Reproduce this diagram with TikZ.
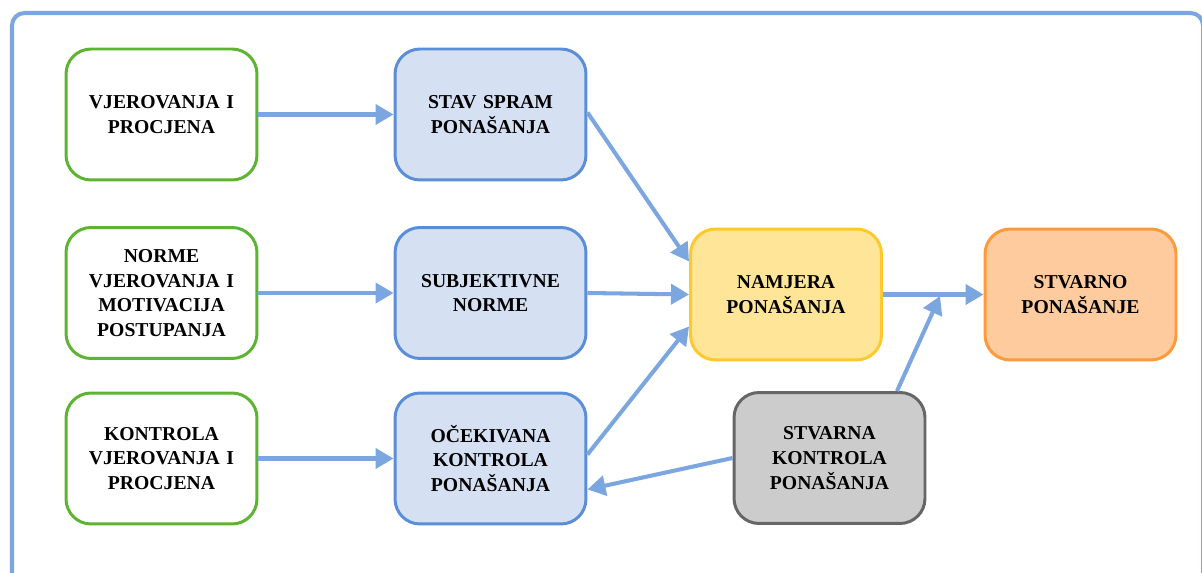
\documentclass[tikz,border=0pt]{standalone}
\usepackage{fontspec}
\setmainfont{Liberation Serif}
\usetikzlibrary{arrows.meta,calc}
\definecolor{arrowblue}{HTML}{7BA6E0}
\definecolor{greenline}{HTML}{5DB332}
\definecolor{bluefill}{HTML}{D5E1F3}
\definecolor{blueline}{HTML}{5B8ED8}
\definecolor{yelfill}{HTML}{FFE597}
\definecolor{yelline}{HTML}{FFC82D}
\definecolor{orfill}{HTML}{FDCB9E}
\definecolor{orline}{HTML}{FD9A3D}
\definecolor{grfill}{HTML}{CCCCCC}
\definecolor{grline}{HTML}{666666}
\tikzset{
  box/.style={draw, rounded corners=0.5cm, line width=1.7pt, minimum width=3.82cm, minimum height=2.62cm,
    align=center, font=\fontsize{11.2}{14}\selectfont\bfseries, text width=3.4cm},
  greenbox/.style={box, draw=greenline, fill=white},
  bluebox/.style={box, draw=blueline, fill=bluefill},
  yelbox/.style={box, draw=yelline, fill=yelfill},
  orbox/.style={box, draw=orline, fill=orfill},
  graybox/.style={box, draw=grline, fill=grfill},
  conn/.style={draw=arrowblue, line width=2.3pt, -{Triangle[length=0.36cm,width=0.4cm]}},
}
\begin{document}
\begin{tikzpicture}[x=0.02cm,y=-0.02cm]
\useasboundingbox (0,0) rectangle (1202,573);
\begin{scope}
\clip (0,0) rectangle (1202,573);
\draw[arrowblue, line width=2.3pt, rounded corners=0.25cm] (12,580) -- (12,13) -- (1203,13) -- (1203,580);
\end{scope}
\node[greenbox] (g1) at (161.5,114.5) {VJEROVANJA I\\PROCJENA};
\node[greenbox] (g2) at (161.5,293) {NORME\\VJEROVANJA I\\MOTIVACIJA\\POSTUPANJA};
\node[greenbox] (g3) at (161.5,458.5) {KONTROLA\\VJEROVANJA I\\PROCJENA};
\node[bluebox] (b1) at (490.5,114.5) {STAV SPRAM\\PONAŠANJA};
\node[bluebox] (b2) at (490.5,293) {SUBJEKTIVNE\\NORME};
\node[bluebox] (b3) at (490.5,458.5) {OČEKIVANA\\KONTROLA\\PONAŠANJA};
\node[yelbox] (y) at (786,294.5) {NAMJERA\\PONAŠANJA};
\node[orbox] (o) at (1080.5,294.5) {STVARNO\\PONAŠANJE};
\node[graybox] (k) at (829.5,458) {STVARNA\\KONTROLA\\PONAŠANJA};
\coordinate (m) at (940,296);
\draw[conn] (g1) -- (b1);
\draw[conn] (g2) -- (b2);
\draw[conn] (g3) -- (b3);
\draw[conn] ($(b1.east)+(0,-2)$) -- ($(y.west)+(0,-33)$);
\draw[conn] (b2.east) -- (y.west);
\draw[conn] ($(b3.east)+(0,-4)$) -- ($(y.west)+(0,32)$);
\draw[conn] (y) -- (o);
\draw[conn] ($(k.north)+(67.5,0)$) -- (m);
\draw[conn] (k.west) -- ($(b3.east)+(0,31)$);
\end{tikzpicture}
\end{document}
